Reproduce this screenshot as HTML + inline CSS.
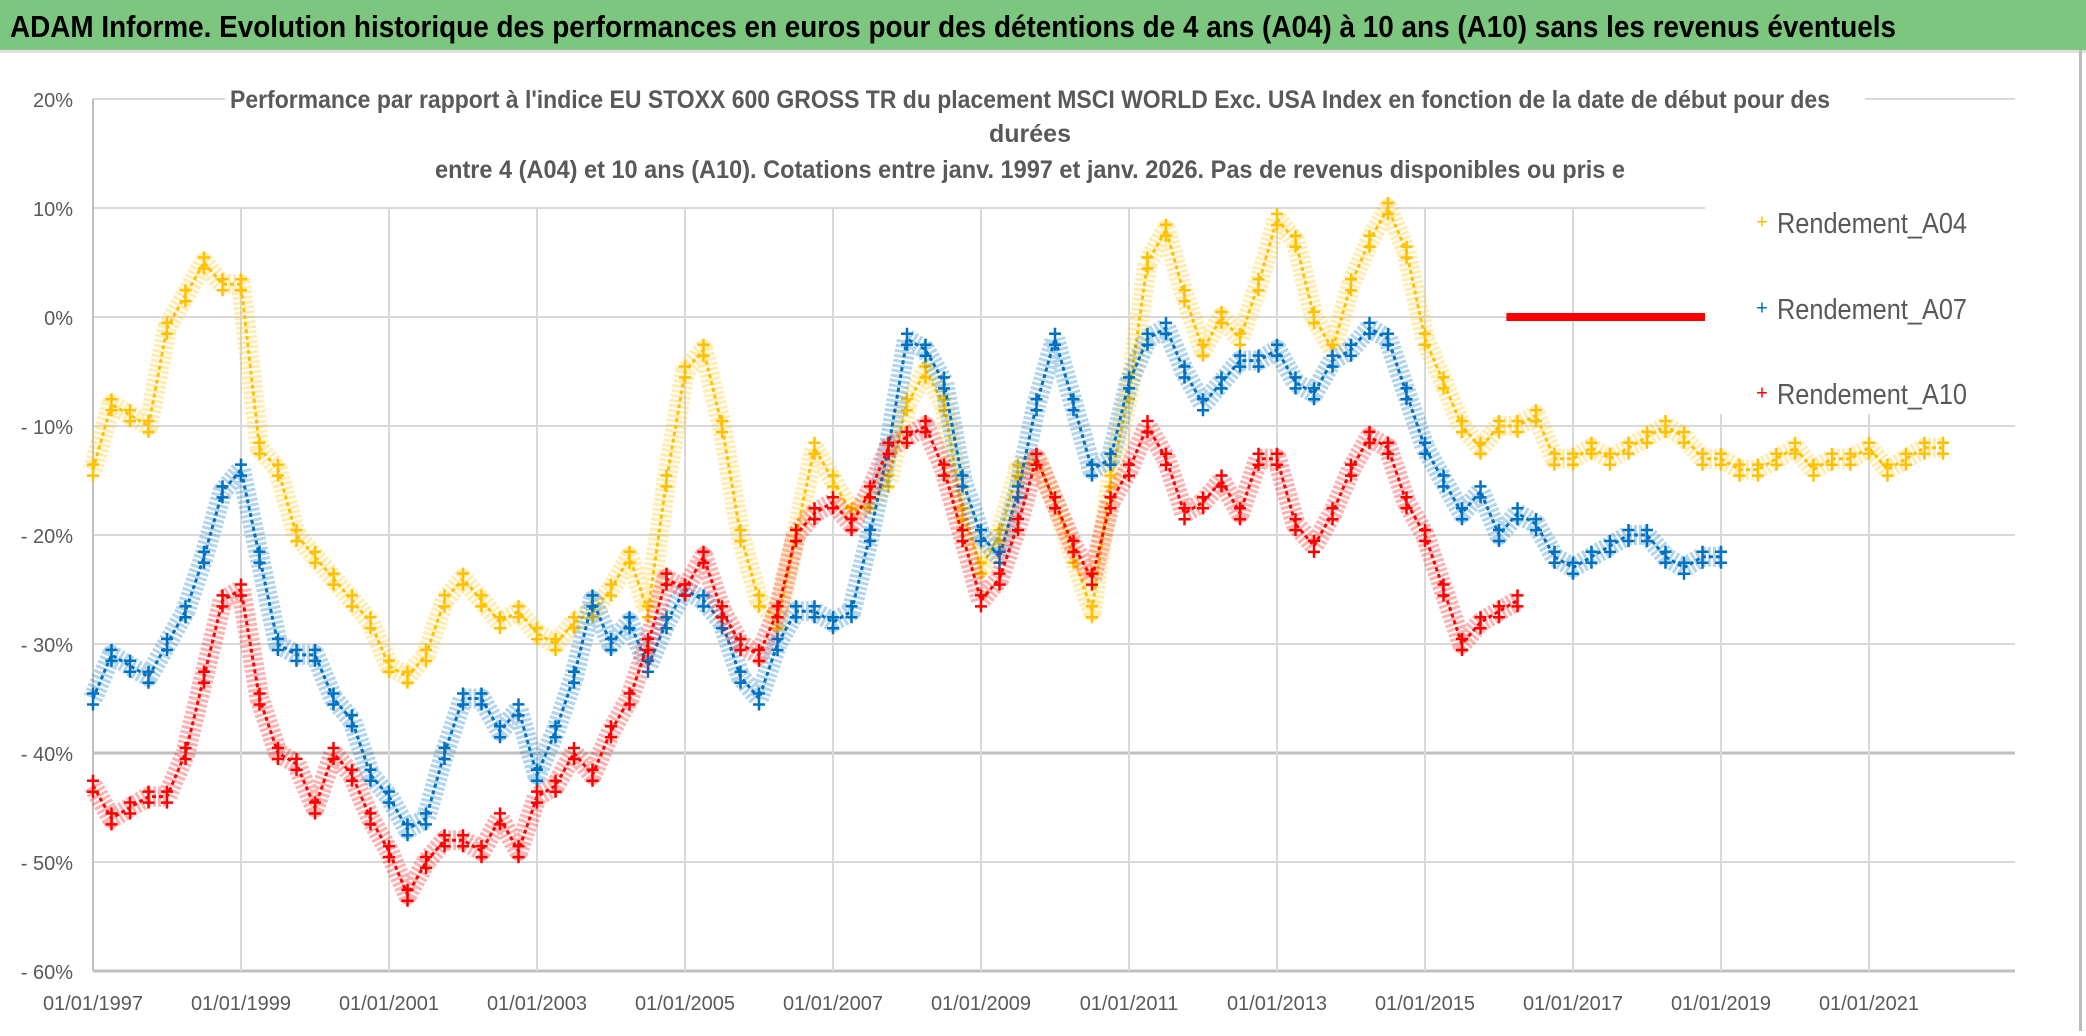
<!DOCTYPE html>
<html><head><meta charset="utf-8"><style>
body{margin:0;width:2086px;height:1031px;background:#fff;overflow:hidden;font-family:"Liberation Sans Narrow","Liberation Sans",sans-serif;}
</style></head><body>
<svg width="2086" height="1031" xmlns="http://www.w3.org/2000/svg">
<rect x="0" y="0" width="2086" height="1031" fill="#fff"/>
<rect x="0" y="0" width="2086" height="50" fill="#7dc67f"/>
<rect x="0" y="50" width="2086" height="3" fill="#e0e0e0"/>
<text x="10" y="37" font-size="31" font-weight="bold" fill="#000" font-family="Liberation Sans Narrow, Liberation Sans, sans-serif" textLength="1886" lengthAdjust="spacingAndGlyphs">ADAM Informe. Evolution historique des performances en euros pour des détentions de 4 ans (A04) à 10 ans (A10) sans les revenus éventuels</text>
<rect x="2079" y="50" width="3" height="981" fill="#bbb"/>
<g id="grid"></g>
<rect x="225" y="80" width="1640" height="110" fill="#fff"/>
<g fill="#595959" font-size="25" font-weight="bold" text-anchor="middle">
<text x="1030" y="108" textLength="1600" lengthAdjust="spacingAndGlyphs">Performance par rapport à l'indice EU STOXX 600 GROSS TR  du placement MSCI WORLD Exc. USA Index en fonction de la date de début pour des</text>
<text x="1030" y="142">durées</text>
<text x="1030" y="178" textLength="1190" lengthAdjust="spacingAndGlyphs">entre 4 (A04) et 10 ans (A10). Cotations entre janv. 1997 et janv. 2026. Pas de revenus disponibles ou pris e</text>
</g>
<g id="axes"></g>
<g id="series"></g>
<rect x="1705" y="192" width="310" height="222" fill="#fff"/>
<g id="legend" font-size="29" fill="#595959">
<g><text x="1762" y="223" fill="#ffc000" font-size="20" text-anchor="middle" dominant-baseline="middle">+</text><text x="1777" y="233" textLength="190" lengthAdjust="spacingAndGlyphs">Rendement_A04</text></g>
<g><text x="1762" y="309" fill="#0070c0" font-size="20" text-anchor="middle" dominant-baseline="middle">+</text><text x="1777" y="319" textLength="190" lengthAdjust="spacingAndGlyphs">Rendement_A07</text></g>
<g><text x="1762" y="394" fill="#ff0000" font-size="20" text-anchor="middle" dominant-baseline="middle">+</text><text x="1777" y="404" textLength="190" lengthAdjust="spacingAndGlyphs">Rendement_A10</text></g>
</g>
</svg>
<script>
const yTicks=[20,10,0,-10,-20,-30,-40,-50,-60];
const yTickLabels=["20%","10%","0%","- 10%","- 20%","- 30%","- 40%","- 50%","- 60%"];
const xTickYears=[1997,1999,2001,2003,2005,2007,2009,2011,2013,2015,2017,2019,2021];
const xTickLabels=["01/01/1997","01/01/1999","01/01/2001","01/01/2003","01/01/2005","01/01/2007","01/01/2009","01/01/2011","01/01/2013","01/01/2015","01/01/2017","01/01/2019","01/01/2021"];
const startA04=1997, startA07=1997, startA10=1997; // quarterly values
const valsA04=[-14,-8,-9,-10,-1,2,5,3,3,-12,-14,-20,-22,-24,-26,-28,-32,-33,-31,-26,-24,-26,-28,-27,-29,-30,-28,-27,-25,-22,-27,-15,-5,-3,-10,-20,-26,-28,-20,-12,-15,-18,-17,-15,-8,-5,-8,-18,-23,-20,-14,-13,-17,-22,-27,-15,-7,5,8,2,-3,0,-2,3,9,7,0,-3,3,7,10,6,-2,-6,-10,-12,-10,-10,-9,-13,-13,-12,-13,-12,-11,-10,-11,-13,-13,-14,-14,-13,-12,-14,-13,-13,-12,-14,-13,-12,-12];
const valsA07=[-35,-31,-32,-33,-30,-27,-22,-16,-14,-22,-30,-31,-31,-35,-37,-42,-44,-47,-46,-40,-35,-35,-38,-36,-42,-38,-33,-26,-30,-28,-32,-28,-25,-26,-28,-33,-35,-30,-27,-27,-28,-27,-20,-12,-2,-3,-6,-15,-20,-22,-16,-8,-2,-8,-14,-13,-6,-2,-1,-5,-8,-6,-4,-4,-3,-6,-7,-4,-3,-1,-2,-7,-12,-15,-18,-16,-20,-18,-19,-22,-23,-22,-21,-20,-20,-22,-23,-22,-22];
const valsA10=[-43,-46,-45,-44,-44,-40,-33,-26,-25,-35,-40,-41,-45,-40,-42,-46,-49,-53,-50,-48,-48,-49,-46,-49,-44,-43,-40,-42,-38,-35,-30,-24,-25,-22,-27,-30,-31,-27,-20,-18,-17,-19,-16,-12,-11,-10,-14,-20,-26,-24,-19,-13,-17,-21,-24,-17,-14,-10,-13,-18,-17,-15,-18,-13,-13,-19,-21,-18,-14,-11,-12,-17,-20,-25,-30,-28,-27,-26];
const flatA10Start=2016.1, flatA10End=2018.8, flatA10Value=0;
const NS="http://www.w3.org/2000/svg";
const X0=93, PX_YEAR=74, Y0=317, PX_PCT=10.9;
const xs=y=>X0+(y-1997)*PX_YEAR;
const ys=v=>Y0-v*PX_PCT;
function mk(tag,attrs,parent){const e=document.createElementNS(NS,tag);for(const k in attrs)e.setAttribute(k,attrs[k]);parent.appendChild(e);return e;}
const grid=document.getElementById('grid'), axes=document.getElementById('axes'), series=document.getElementById('series');
yTicks.forEach((t,i)=>{
  const dark=(t===-40||t===-60);
  const l=mk('line',{x1:X0,x2:2015,y1:ys(t),y2:ys(t),stroke:dark?'#bfbfbf':'#d9d9d9','stroke-width':dark?3:2},grid);
  
  
  const tx=mk('text',{x:73,y:ys(t)+8,'text-anchor':'end','font-size':20,fill:'#595959'},axes);
  tx.textContent=yTickLabels[i];
  
  
});
xTickYears.forEach((yr,i)=>{
  if(i>0){const l=mk('line',{x1:xs(yr),x2:xs(yr),y1:ys(10),y2:ys(-60),stroke:'#d9d9d9','stroke-width':2},grid);
  
  }
  const tx=mk('text',{x:xs(yr),y:1010,'text-anchor':'middle','font-size':20,fill:'#595959'},axes);
  tx.textContent=xTickLabels[i];
  
  
});
const al=mk('line',{x1:X0,x2:X0,y1:ys(20),y2:ys(-60),stroke:'#bfbfbf','stroke-width':2},axes);


function drawSeries(vals,start,color,name){
  const g=mk('g',{},series);
  
  
  const pts=vals.map((v,i)=>xs(start+i*0.25)+','+ys(v)).join(' ');
  mk('polyline',{points:pts,fill:'none',stroke:color,'stroke-width':20,'stroke-opacity':0.3,'stroke-linejoin':'round','stroke-dasharray':'3 2'},g);
  mk('polyline',{points:pts,fill:'none',stroke:color,'stroke-width':3,'stroke-linejoin':'round','stroke-dasharray':'4 3'},g);
  vals.forEach((v,i)=>{
    const x=xs(start+i*0.25), y=ys(v);
    const p=mk('path',{d:`M${x-6},${y-5}h12M${x},${y-11}v12M${x-6},${y+6}h12M${x},${y}v12`,stroke:color,'stroke-width':2.5},g);
    
    
  });
}
drawSeries(valsA04,startA04,'#ffc000','series-a04');
drawSeries(valsA07,startA07,'#0070c0','series-a07');
drawSeries(valsA10,startA10,'#ff0000','series-a10');
const fl=mk('line',{x1:xs(flatA10Start),x2:xs(flatA10End),y1:ys(flatA10Value),y2:ys(flatA10Value),stroke:'#ff0000','stroke-width':8},series);


</script>
</body></html>
